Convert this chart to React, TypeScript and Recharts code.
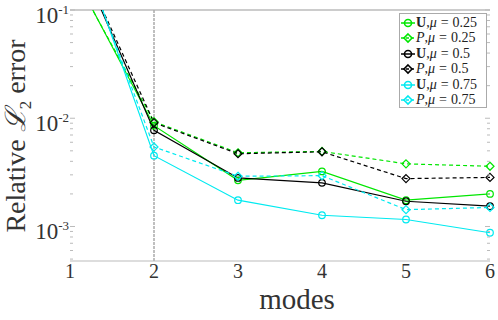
import React from 'react';
import { LineChart, Line, XAxis, YAxis, ReferenceLine, Legend } from 'recharts';

const modes = [1, 2, 3, 4, 5, 6];
const uMu025 = [0.25, 0.00854, 0.00267, 0.00323, 0.00175, 0.0020];
const pMu025 = [0.24, 0.00929, 0.0048, 0.00494, 0.00379, 0.0036];
const uMu05 = [0.46, 0.00773, 0.00281, 0.00253, 0.00171, 0.00154];
const pMu05 = [0.46, 0.0091, 0.0047, 0.0049, 0.00277, 0.00284];
const uMu075 = [0.72, 0.00451, 0.00175, 0.00127, 0.00116, 0.000875];
const pMu075 = [0.64, 0.00543, 0.00291, 0.00295, 0.00143, 0.0015];

const xTicks = [1, 2, 3, 4, 5, 6];
const yMajor = [0.1, 0.01, 0.001];
const yMajorExp = ['-1', '-2', '-3'];
const yMinor = [0.09, 0.08, 0.07, 0.06, 0.05, 0.04, 0.03, 0.02,
  0.009, 0.008, 0.007, 0.006, 0.005, 0.004, 0.003, 0.002,
  0.0009, 0.0008, 0.0007, 0.0006, 0.0005];
const yDomain = [4.8e-4, 0.1];

const GREEN = '#00e600';
const BLACK = '#000000';
const CYAN = '#00eaf0';

const seriesDefs = [
  { key: 'u025', values: uMu025, color: GREEN, dashed: false, sym: 'U', mu: '0.25' },
  { key: 'p025', values: pMu025, color: GREEN, dashed: true, sym: 'P', mu: '0.25' },
  { key: 'u05', values: uMu05, color: BLACK, dashed: false, sym: 'U', mu: '0.5' },
  { key: 'p05', values: pMu05, color: BLACK, dashed: true, sym: 'P', mu: '0.5' },
  { key: 'u075', values: uMu075, color: CYAN, dashed: false, sym: 'U', mu: '0.75' },
  { key: 'p075', values: pMu075, color: CYAN, dashed: true, sym: 'P', mu: '0.75' },
];

const data = modes.map((m, i) => {
  const row: any = { mode: m };
  seriesDefs.forEach((s) => { row[s.key] = s.values[i]; });
  return row;
});

const SERIF = 'Liberation Serif';

const CircleDot = (color: string) => (props: any) => {
  const { cx, cy } = props;
  if (cx == null || cy == null) return null;
  return <circle cx={cx} cy={cy} r={3.3} fill="none" stroke={color} strokeWidth={1.2} />;
};
const DiamondDot = (color: string) => (props: any) => {
  const { cx, cy } = props;
  if (cx == null || cy == null) return null;
  const r = 4;
  return (
    <path d={`M${cx},${cy - r}L${cx + r},${cy}L${cx},${cy + r}L${cx - r},${cy}Z`} fill="none" stroke={color} strokeWidth={1.2} />
  );
};

const LeftTick = (props: any) => {
  const { x, y, payload } = props;
  const idx = yMajor.indexOf(payload.value);
  const major = idx >= 0;
  return (
    <g>
      <line x1={x} x2={x + (major ? 5 : 3)} y1={y} y2={y} stroke="#bbbbbb" strokeWidth={1} />
      {major && (
        <text x={x - 1} y={y + 13} textAnchor="end" fontFamily={SERIF} fontSize={23} fill="#333">
          10
          <tspan dy={-9} fontSize={13}>{yMajorExp[idx]}</tspan>
        </text>
      )}
    </g>
  );
};

const RightTick = (props: any) => {
  const { x, y, payload } = props;
  const major = yMajor.indexOf(payload.value) >= 0;
  return <line x1={x - (major ? 5 : 3)} x2={x} y1={y} y2={y} stroke="#bbbbbb" strokeWidth={1} />;
};

const XTick = (props: any) => {
  const { x, y, payload } = props;
  return (
    <text x={x} y={y + 17} textAnchor="middle" fontFamily={SERIF} fontSize={20} fill="#333">
      {payload.value}
    </text>
  );
};

const LegendIcon = ({ color, dashed }: { color: string; dashed: boolean }) => (
  <svg width={14} height={12} style={{ display: 'block' }}>
    <line x1={0} x2={14} y1={6} y2={6} stroke={color} strokeWidth={1.5} strokeDasharray={dashed ? '3 2' : undefined} />
    {dashed ? (
      <path d="M7,2L11,6L7,10L3,6Z" fill="none" stroke={color} strokeWidth={1.6} />
    ) : (
      <circle cx={7} cy={6} r={3.5} fill="none" stroke={color} strokeWidth={1.6} />
    )}
  </svg>
);

const LegendContent = () => (
  <div
    style={{
      width: 88,
      height: 95,
      boxSizing: 'border-box',
      border: '1px solid #aaaaaa',
      background: '#ffffff',
      padding: '1px 0 0 1px',
      fontFamily: SERIF,
      fontSize: 14,
      color: '#222',
    }}
  >
    {seriesDefs.map((s) => (
      <div key={s.key} style={{ display: 'flex', alignItems: 'center', height: 15.5, whiteSpace: 'nowrap' }}>
        <LegendIcon color={s.color} dashed={s.dashed} />
        <span style={{ marginLeft: 1 }}>
          {s.sym === 'U' ? <b>U</b> : <i>P</i>},<i>μ</i>
          <span style={{ margin: '0 4px' }}>=</span>
          {s.mu}
        </span>
      </div>
    ))}
  </div>
);

export default function App() {
  return (
    <div style={{ position: 'absolute', left: 0, top: 0, width: 498, height: 320, background: '#fff' }}>
      <LineChart width={498} height={320} data={data} margin={{ top: 10, right: 0, bottom: 0, left: 0 }}>
        <XAxis
          dataKey="mode"
          type="number"
          domain={[1, 6]}
          ticks={xTicks}
          interval={0}
          height={59}
          axisLine={{ stroke: '#bbbbbb' }}
          tickLine={false}
          tickSize={0}
          tickMargin={0}
          tick={<XTick />}
          label={{
            content: () => (
              <text x={297} y={309} textAnchor="middle" fontFamily={SERIF} fontSize={29} fill="#333">
                modes
              </text>
            ),
          }}
        />
        <YAxis
          yAxisId="left"
          scale="log"
          domain={yDomain}
          allowDataOverflow
          ticks={[...yMajor, ...yMinor]}
          interval={0}
          width={70}
          axisLine={false}
          tickLine={false}
          tickSize={0}
          tickMargin={0}
          tick={<LeftTick />}
          label={{
            content: () => (
              <text
                x={25}
                y={136}
                transform="rotate(-90 25 136)"
                textAnchor="middle"
                fontFamily={SERIF}
                fontSize={28}
                fill="#333"
              >
                Relative <tspan fontStyle="italic">ℒ</tspan>
                <tspan dy={6} fontSize={17}>2</tspan>
                <tspan dy={-6}> error</tspan>
              </text>
            ),
          }}
        />
        <YAxis
          yAxisId="right"
          orientation="right"
          scale="log"
          domain={yDomain}
          allowDataOverflow
          ticks={[...yMajor, ...yMinor]}
          interval={0}
          width={8}
          axisLine={false}
          tickLine={false}
          tickSize={0}
          tickMargin={0}
          tick={<RightTick />}
        />
        <ReferenceLine yAxisId="left" y={0.1} stroke="#999999" strokeWidth={1} />
        <ReferenceLine yAxisId="left" x={2} stroke="#aaaaaa" strokeWidth={1.5} strokeDasharray="3 1" />
        {seriesDefs.map((s) => (
          <Line
            key={s.key}
            yAxisId="left"
            dataKey={s.key}
            type="linear"
            stroke={s.color}
            strokeWidth={1.2}
            strokeDasharray={s.dashed ? '4 3' : undefined}
            dot={s.dashed ? DiamondDot(s.color) : CircleDot(s.color)}
            activeDot={false}
            isAnimationActive={false}
          />
        ))}
        <Legend
          layout="horizontal"
          verticalAlign="middle"
          align="center"
          content={<LegendContent />}
          wrapperStyle={{ position: 'absolute', left: 399, top: 13, width: 88, height: 95 }}
        />
      </LineChart>
    </div>
  );
}
